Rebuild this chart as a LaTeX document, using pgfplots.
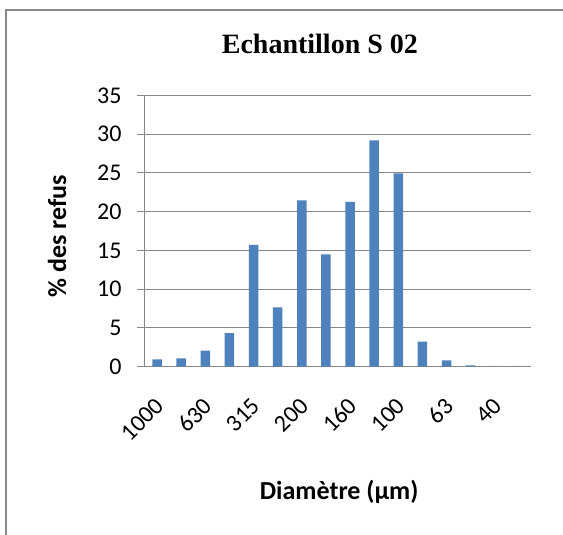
\documentclass[border=0pt]{standalone}
\usepackage{pgfplots}
\pgfplotsset{compat=1.18}
\usepackage{fontspec}
\setmainfont{Carlito}
\newfontfamily\titlefont{Liberation Serif}
\definecolor{barblue}{HTML}{4F81BD}
\definecolor{gridgray}{HTML}{868686}
\begin{document}
\begin{tikzpicture}
\path[use as bounding box] (0pt,0pt) rectangle (563pt,535pt);
\fill[white] (0pt,0pt) rectangle (563pt,535pt);
\draw[gridgray, line width=1.8pt] (6pt,0pt) -- (6pt,525pt) -- (563pt,525pt);
\begin{axis}[
  at={(145pt,168.3pt)}, anchor=south west,
  scale only axis, width=386pt, height=271.4pt,
  xmin=-0.5, xmax=15.5, ymin=0, ymax=35,
  ytick={0,5,...,35},
  xtick={0,2,...,14},
  xticklabels={1000,630,315,200,160,100,63,40},
  xtick style={draw=none},
  minor xtick={-0.5,0.5,...,15.5},
  minor x tick style={gridgray, line width=1pt},
  ytick style={gridgray, line width=1pt},
  major tick length=8pt, minor tick length=8pt,
  tick align=outside,
  axis x line*=bottom, axis y line*=left,
  axis line style={gridgray, line width=1pt, -},
  ymajorgrids, grid style={gridgray, line width=1pt},
  /pgf/number format/assume math mode=true,
  tick label style={font=\fontsize{24}{28}\selectfont},
  yticklabel style={xshift=-12pt},
  xticklabel style={xshift=5pt, rotate=45, anchor=east},
  xticklabel shift=25pt,
  title={\titlefont\bfseries Echantillon S 02},
  title style={font=\fontsize{28}{32}\selectfont, at={(rel axis cs:0.453,1.169)}, anchor=center},
  xlabel={\bfseries Diamètre (µm)},
  xlabel style={font=\fontsize{26}{30}\selectfont, at={(rel axis cs:0.503,-0.46)}, anchor=center},
  ylabel={\bfseries \% des refus},
  ylabel style={font=\fontsize{26}{30}\selectfont, at={(rel axis cs:-0.228,0.48)}, anchor=center, rotate=0},
  clip=false,
]
\addplot[ybar, bar width=9.5pt, fill=barblue, draw=none] coordinates {
 (0,0.95) (1,1.07) (2,2.06) (3,4.34) (4,15.7) (5,7.65) (6,21.45) (7,14.49)
 (8,21.24) (9,29.19) (10,24.94) (11,3.22) (12,0.82) (13,0.17) (14,0) (15,0)
};
\end{axis}
\end{tikzpicture}
\end{document}
